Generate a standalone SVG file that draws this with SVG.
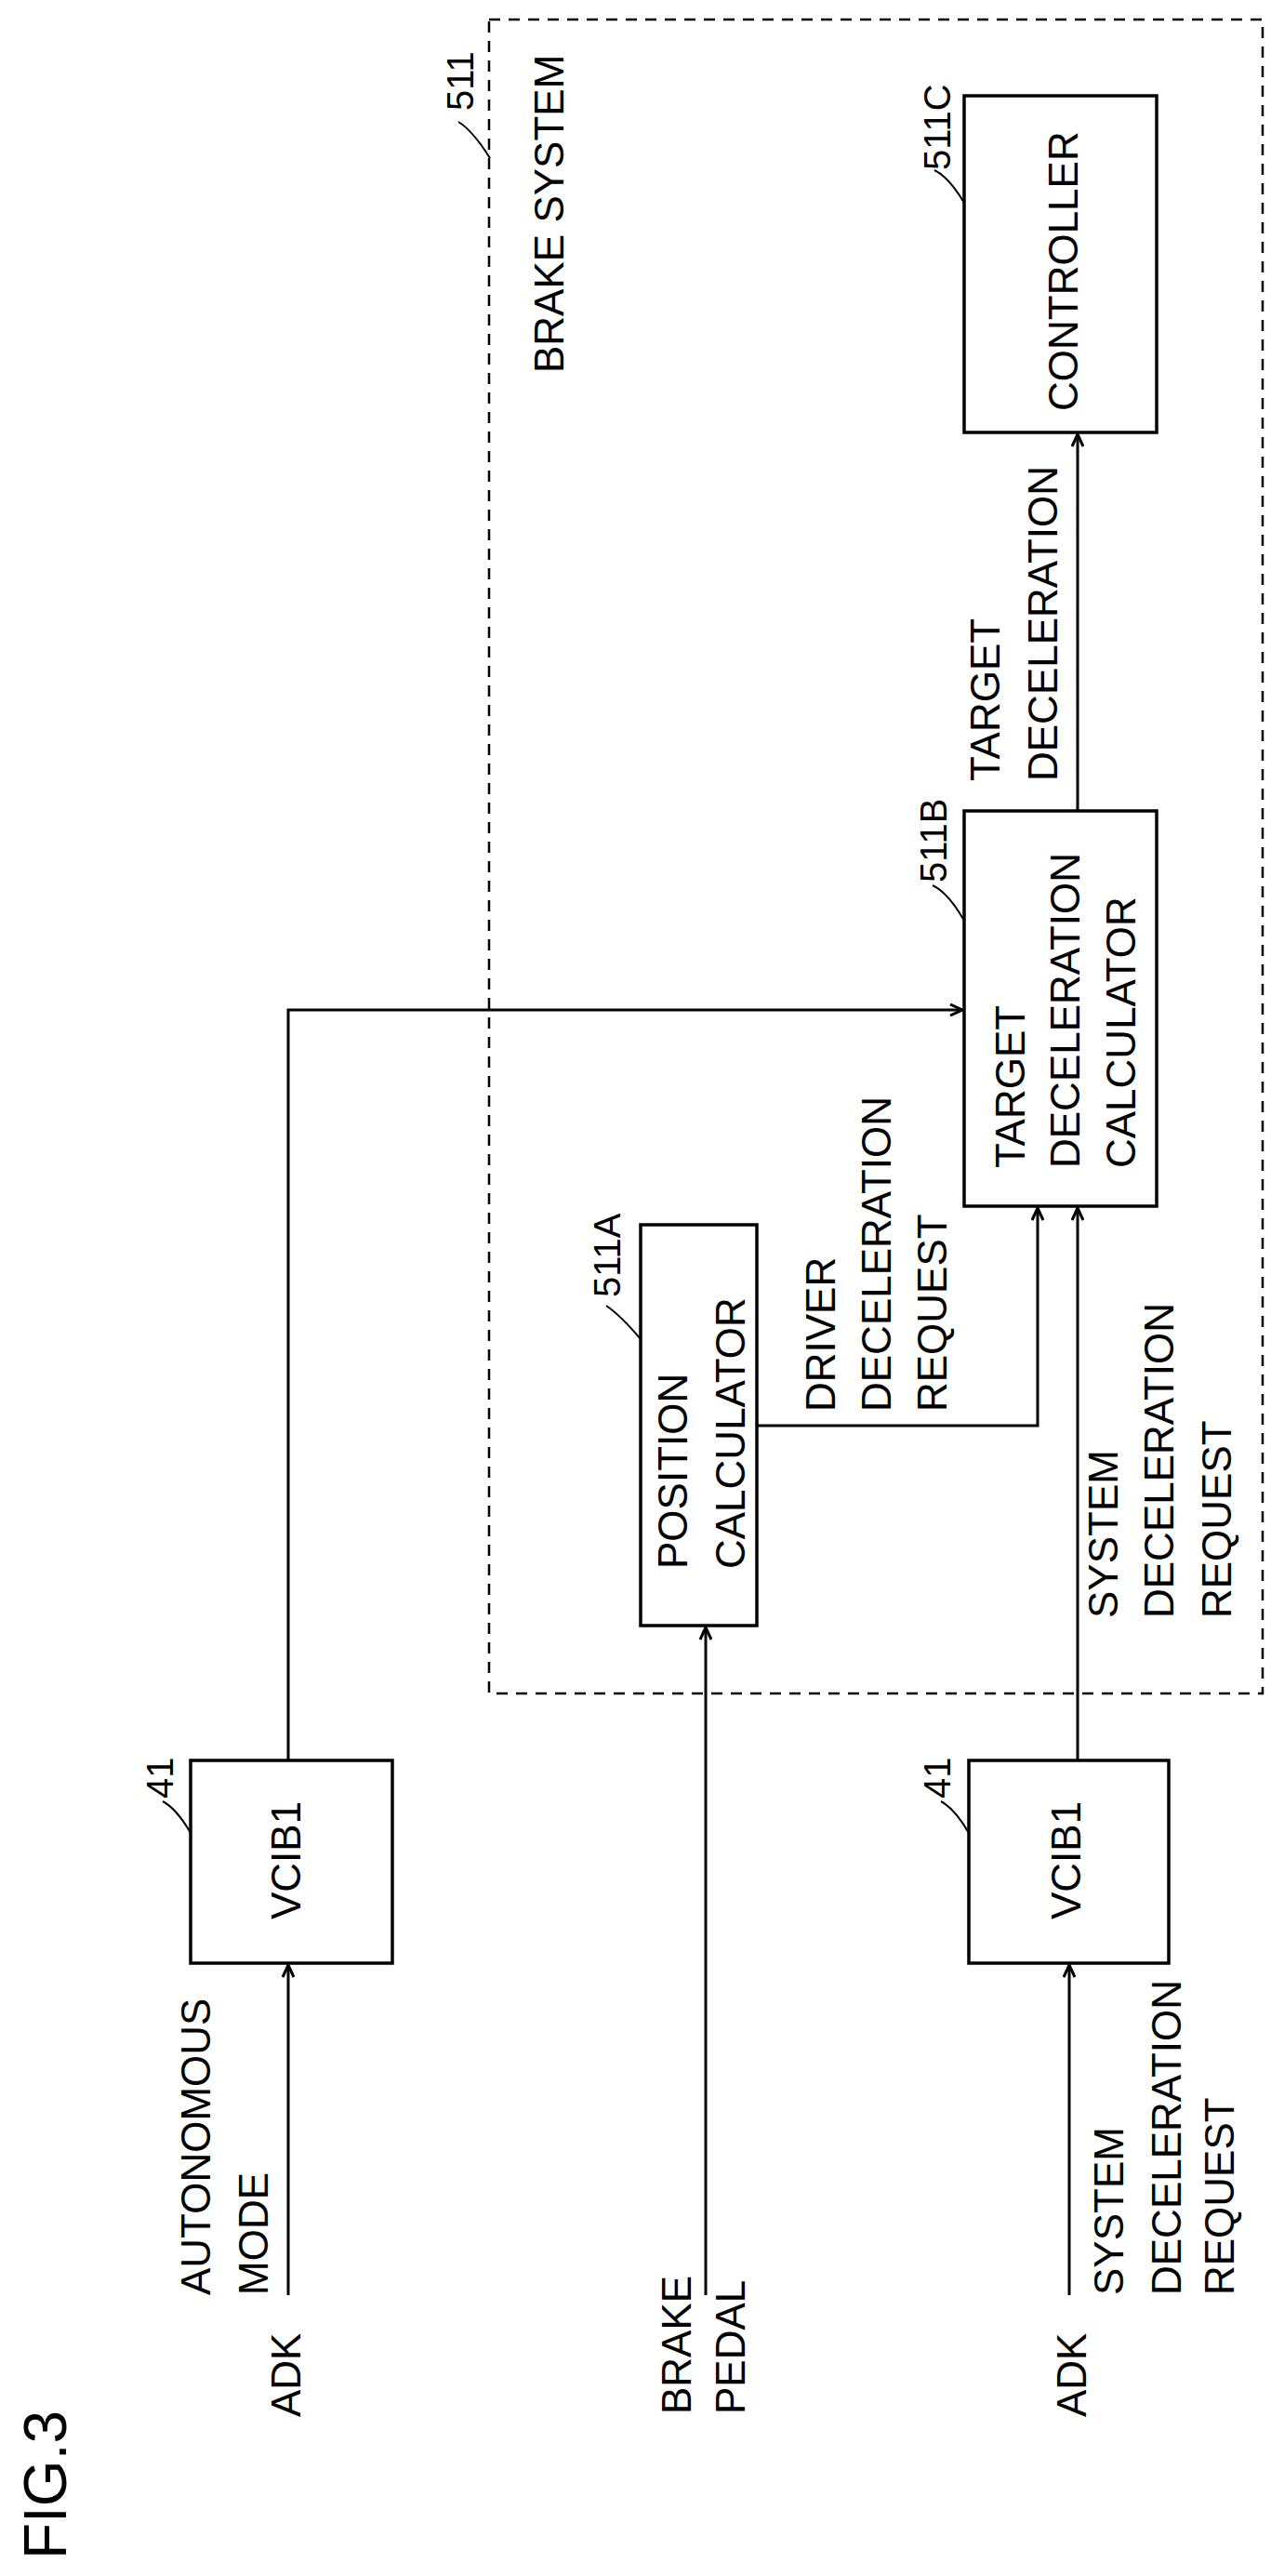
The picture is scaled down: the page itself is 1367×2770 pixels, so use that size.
<svg xmlns="http://www.w3.org/2000/svg" width="1367" height="2770" viewBox="0 0 1367 2770">
<style>
.box{fill:none;stroke:#000;stroke-width:3.5}
.ln{fill:none;stroke:#000;stroke-width:3}
.ld{fill:none;stroke:#000;stroke-width:2}
.dash{fill:none;stroke:#000;stroke-width:2.5;stroke-dasharray:12 9}
text{font-family:"Liberation Sans",Arial,sans-serif;font-size:44px;fill:#000}
.ref{font-size:40px}
.fig{font-size:64px}
</style>
<defs>
<marker id="ah" markerWidth="16" markerHeight="14" refX="14" refY="7" orient="auto" markerUnits="userSpaceOnUse">
<path d="M1,1 L14,7 L1,13" fill="none" stroke="#000" stroke-width="3"/>
</marker>
</defs>
<rect width="1367" height="2770" fill="#fff"/>
<text class="fig" transform="translate(71,2752) rotate(-90)">FIG.3</text>

<g id="brake-system">
<rect class="dash" x="526" y="21" width="832" height="1800"/>
<text transform="translate(606,401) rotate(-90)">BRAKE SYSTEM</text>
<text class="ref" transform="translate(509,119) rotate(-90)">511</text>
<path class="ld" d="M527,170 Q508,140 493,131"/>
</g>

<g id="controller">
<rect class="box" x="1037" y="103" width="207" height="362"/>
<text transform="translate(1159,442) rotate(-90)">CONTROLLER</text>
<text class="ref" transform="translate(1022,183) rotate(-90)">511C</text>
<path class="ld" d="M1037,218 Q1020,190 1005,183"/>
</g>

<g id="target-decel-calc">
<rect class="box" x="1037" y="872" width="207" height="425"/>
<text transform="translate(1102,1256) rotate(-90)">TARGET</text>
<text transform="translate(1161,1256) rotate(-90)">DECELERATION</text>
<text transform="translate(1221,1256) rotate(-90)">CALCULATOR</text>
<text class="ref" transform="translate(1018,949) rotate(-90)">511B</text>
<path class="ld" d="M1037,990 Q1020,960 1003,952"/>
</g>

<g id="position-calc">
<rect class="box" x="689" y="1317" width="125" height="431"/>
<text transform="translate(739,1687) rotate(-90)">POSITION</text>
<text transform="translate(801,1687) rotate(-90)">CALCULATOR</text>
<text class="ref" transform="translate(667,1395) rotate(-90)">511A</text>
<path class="ld" d="M689,1440 Q668,1415 652,1404"/>
</g>

<g id="vcib1-a">
<rect class="box" x="205" y="1893" width="217" height="218"/>
<text transform="translate(323,2064) rotate(-90)">VCIB1</text>
<text class="ref" transform="translate(186,1934) rotate(-90)">41</text>
<path class="ld" d="M205,1971 Q190,1945 175,1937"/>
</g>

<g id="vcib1-b">
<rect class="box" x="1042" y="1893" width="215" height="218"/>
<text transform="translate(1162,2064) rotate(-90)">VCIB1</text>
<text class="ref" transform="translate(1022,1934) rotate(-90)">41</text>
<path class="ld" d="M1042,1971 Q1027,1945 1012,1937"/>
</g>

<g id="labels">
<text transform="translate(226,2468) rotate(-90)">AUTONOMOUS</text>
<text transform="translate(288,2468) rotate(-90)">MODE</text>
<text transform="translate(323,2599) rotate(-90)">ADK</text>
<text transform="translate(743,2596) rotate(-90)">BRAKE</text>
<text transform="translate(801,2596) rotate(-90)">PEDAL</text>
<text transform="translate(1168,2599) rotate(-90)">ADK</text>
<text transform="translate(1208,2468) rotate(-90)">SYSTEM</text>
<text transform="translate(1270,2468) rotate(-90)">DECELERATION</text>
<text transform="translate(1327,2468) rotate(-90)">REQUEST</text>
<text transform="translate(1202,1740) rotate(-90)">SYSTEM</text>
<text transform="translate(1262,1740) rotate(-90)">DECELERATION</text>
<text transform="translate(1324,1740) rotate(-90)">REQUEST</text>
<text transform="translate(898,1518) rotate(-90)">DRIVER</text>
<text transform="translate(958,1518) rotate(-90)">DECELERATION</text>
<text transform="translate(1018,1518) rotate(-90)">REQUEST</text>
<text transform="translate(1075,840) rotate(-90)">TARGET</text>
<text transform="translate(1137,840) rotate(-90)">DECELERATION</text>
</g>

<g id="connectors">
<path class="ln" d="M310,2468 V2113" marker-end="url(#ah)"/>
<path class="ln" d="M1150,2468 V2113" marker-end="url(#ah)"/>
<path class="ln" d="M759,2468 V1750" marker-end="url(#ah)"/>
<path class="ln" d="M310,1893 V1086 H1035" marker-end="url(#ah)"/>
<path class="ln" d="M1159,1893 V1299" marker-end="url(#ah)"/>
<path class="ln" d="M814,1533 H1116 V1299" marker-end="url(#ah)"/>
<path class="ln" d="M1159,872 V467" marker-end="url(#ah)"/>
</g>
</svg>
